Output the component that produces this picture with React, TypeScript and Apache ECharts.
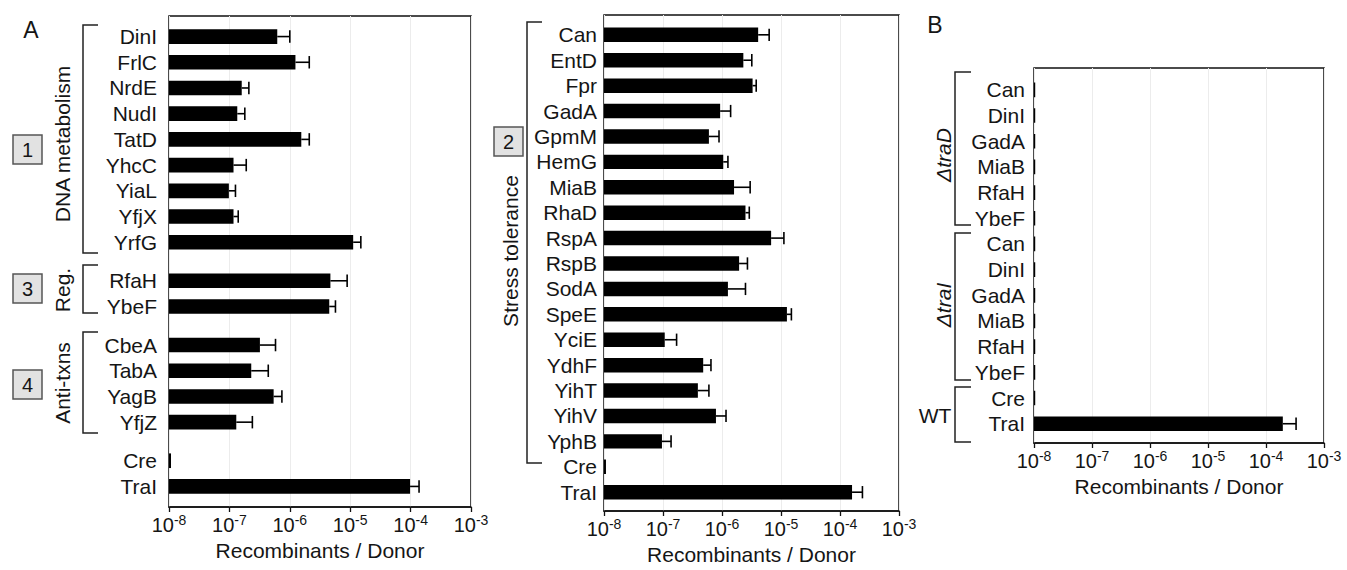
import React, { useEffect, useRef } from "react";
import * as echarts from "echarts";

// ---------- Data (Recombinants / Donor) ----------
// Panel A (left)
const dnaGenes = ["DinI", "FrlC", "NrdE", "NudI", "TatD", "YhcC", "YiaL", "YfjX", "YrfG"];
const dnaMeans = [6.2e-7, 1.24e-6, 1.6e-7, 1.35e-7, 1.55e-6, 1.17e-7, 9.8e-8, 1.17e-7, 1.12e-5];
const dnaUpper = [1.0e-6, 2.1e-6, 2.1e-7, 1.8e-7, 2.1e-6, 1.9e-7, 1.26e-7, 1.4e-7, 1.5e-5];

const regGenes = ["RfaH", "YbeF"];
const regMeans = [4.7e-6, 4.5e-6];
const regUpper = [8.9e-6, 5.7e-6];

const antiGenes = ["CbeA", "TabA", "YagB", "YfjZ"];
const antiMeans = [3.2e-7, 2.3e-7, 5.4e-7, 1.3e-7];
const antiUpper = [5.8e-7, 4.4e-7, 7.4e-7, 2.4e-7];

const ctrlGenes = ["Cre", "TraI"];
const ctrlMeansA1 = [1.08e-8, 9.8e-5];
const ctrlUpperA1 = [0, 1.38e-4];

// Panel A (right)
const stressGenes = ["Can", "EntD", "Fpr", "GadA", "GpmM", "HemG", "MiaB", "RhaD", "RspA", "RspB",
  "SodA", "SpeE", "YciE", "YdhF", "YihT", "YihV", "YphB"];
const stressMeans = [4.1e-6, 2.3e-6, 3.3e-6, 9.3e-7, 6.0e-7, 1.05e-6, 1.6e-6, 2.5e-6, 6.8e-6, 1.95e-6,
  1.26e-6, 1.26e-5, 1.07e-7, 4.8e-7, 3.9e-7, 7.9e-7, 9.6e-8];
const stressUpper = [6.3e-6, 3.2e-6, 3.8e-6, 1.4e-6, 8.9e-7, 1.26e-6, 3.0e-6, 2.9e-6, 1.12e-5, 2.7e-6,
  2.5e-6, 1.5e-5, 1.7e-7, 6.5e-7, 6.0e-7, 1.17e-6, 1.37e-7];
const ctrlMeansA2 = [1.08e-8, 1.6e-4];
const ctrlUpperA2 = [0, 2.4e-4];

// Panel B
const bGenes = ["Can", "DinI", "GadA", "MiaB", "RfaH", "YbeF"];
const traDMeans = [1.05e-8, 1.05e-8, 1.05e-8, 1.05e-8, 1.05e-8, 1.05e-8];
const traIMeans = [1.05e-8, 1.05e-8, 1.05e-8, 1.05e-8, 1.05e-8, 1.05e-8];
const noUpper = [0, 0, 0, 0, 0, 0];
const wtGenes = ["Cre", "TraI"];
const wtMeans = [1.05e-8, 1.95e-4];
const wtUpper = [0, 3.3e-4];

const xTicksMin = 1e-8;
const xTicksMax = 1e-3;

// ---------- helpers ----------
type Group = { names: string[]; means: number[]; upper: number[] };

function buildRows(groups: Group[], gap: number) {
  const names: string[] = [];
  const positions: number[] = [];
  const data: number[][] = [];
  let pos = 0;
  groups.forEach((g, gi) => {
    if (gi > 0) pos += gap;
    g.names.forEach((n, i) => {
      names.push(n);
      positions.push(pos);
      data.push([g.means[i], pos, g.upper[i]]);
      pos += 1;
    });
  });
  return { names, positions, data };
}

const FONT = "'Liberation Sans', Arial, Helvetica, sans-serif";
const TXT = "#151515";

const renderBar = (params: any, api: any) => {
  const v = api.value(0);
  const y = api.value(1);
  const up = api.value(2);
  const p0 = api.coord([xTicksMin, y]);
  const p1 = api.coord([v, y]);
  const half = Math.abs(api.coord([xTicksMin, y + 0.285])[1] - p0[1]);
  const children: any[] = [
    {
      type: "rect",
      shape: { x: p0[0], y: p0[1] - half, width: Math.max(p1[0] - p0[0], 1), height: half * 2 },
      style: { fill: "#000" },
    },
  ];
  if (up && up > v) {
    const p2 = api.coord([up, y]);
    const cap = half * 0.85;
    children.push({
      type: "line",
      shape: { x1: p1[0], y1: p1[1], x2: p2[0], y2: p1[1] },
      style: { stroke: "#000", lineWidth: 1.6 },
    });
    children.push({
      type: "line",
      shape: { x1: p2[0], y1: p1[1] - cap, x2: p2[0], y2: p1[1] + cap },
      style: { stroke: "#000", lineWidth: 1.6 },
    });
  }
  return { type: "group", children };
};

function makeAxes(idx: number, rows: { names: string[]; positions: number[] }, ymin: number, ymax: number, labelMargin: number) {
  const xAxis = {
    type: "log",
    gridIndex: idx,
    logBase: 10,
    min: xTicksMin,
    max: xTicksMax,
    position: "bottom",
    name: "Recombinants / Donor",
    nameLocation: "middle",
    nameGap: 33,
    nameTextStyle: { fontFamily: FONT, fontSize: 21, color: TXT },
    axisLine: { show: true, onZero: false, lineStyle: { color: "#111", width: 1.5 } },
    axisTick: { show: true, inside: false, length: 5, lineStyle: { color: "#111", width: 1.3 } },
    splitLine: { show: true, lineStyle: { color: "#ececec", width: 1 } },
    axisLabel: {
      margin: 6,
      formatter: (val: number) => `{b|10}{s|${Math.round(Math.log10(val))}}`,
      rich: {
        b: { fontFamily: FONT, fontSize: 20, color: TXT, lineHeight: 24 },
        s: { fontFamily: FONT, fontSize: 14, color: TXT, lineHeight: 14, verticalAlign: "top" },
      },
    },
  };
  const yAxis = {
    type: "value",
    gridIndex: idx,
    inverse: true,
    min: ymin,
    max: ymax,
    axisLine: { show: false, onZero: false },
    axisTick: { show: false },
    splitLine: { show: false },
    axisLabel: {
      customValues: rows.positions,
      margin: labelMargin,
      fontFamily: FONT,
      fontSize: 21,
      color: TXT,
      formatter: (val: number) => {
        const i = rows.positions.findIndex((p) => Math.abs(p - val) < 1e-6);
        return i >= 0 ? rows.names[i] : "";
      },
    },
  };
  return { xAxis, yAxis };
}

function bracket(x: number, y1: number, y2: number, tick: number) {
  return {
    type: "polyline",
    shape: { points: [[x + tick, y1], [x, y1], [x, y2], [x + tick, y2]] },
    style: { stroke: "#222", lineWidth: 1.5, fill: null },
  };
}

function numBox(x: number, y: number, label: string) {
  return {
    type: "group",
    children: [
      { type: "rect", shape: { x, y, width: 29, height: 29 }, style: { fill: "#e2e2e2", stroke: "#555", lineWidth: 1.5 } },
      { type: "text", x: x + 14.5, y: y + 15, style: { text: label, font: `20px ${FONT}`, fill: TXT, align: "center", verticalAlign: "middle" } },
    ],
  };
}

function vLabel(x: number, y: number, text: string, italic = false) {
  return {
    type: "text",
    x,
    y,
    rotation: Math.PI / 2,
    style: { text, font: `${italic ? "italic " : ""}21px ${FONT}`, fill: TXT, align: "center", verticalAlign: "middle" },
  };
}

function hLabel(x: number, y: number, text: string, size = 22) {
  return {
    type: "text",
    x,
    y,
    style: { text, font: `${size}px ${FONT}`, fill: TXT, align: "center", verticalAlign: "middle" },
  };
}

export default function App() {
  const ref = useRef<HTMLDivElement>(null);
  useEffect(() => {
    if (!ref.current) return;
    const chart = echarts.init(ref.current, undefined, { renderer: "svg" });

    const rowsA1 = buildRows(
      [
        { names: dnaGenes, means: dnaMeans, upper: dnaUpper },
        { names: regGenes, means: regMeans, upper: regUpper },
        { names: antiGenes, means: antiMeans, upper: antiUpper },
        { names: ctrlGenes, means: ctrlMeansA1, upper: ctrlUpperA1 },
      ],
      0.5
    );
    const rowsA2 = buildRows(
      [
        { names: stressGenes, means: stressMeans, upper: stressUpper },
        { names: ctrlGenes, means: ctrlMeansA2, upper: ctrlUpperA2 },
      ],
      0
    );
    const rowsB = buildRows(
      [
        { names: bGenes, means: traDMeans, upper: noUpper },
        { names: bGenes, means: traIMeans, upper: noUpper },
        { names: wtGenes, means: wtMeans, upper: wtUpper },
      ],
      0
    );

    const a1 = makeAxes(0, rowsA1, -0.8, 18.3, 12);
    const a2 = makeAxes(1, rowsA2, -0.78, 18.74, 7);
    const b = makeAxes(2, rowsB, -0.85, 13.75, 9);

    const gridStyle = { show: true, borderColor: "#111", borderWidth: 1.5, backgroundColor: "transparent" };

    chart.setOption({
      animation: false,
      backgroundColor: "#fff",
      grid: [
        { ...gridStyle, left: 169, top: 16, width: 302, height: 491 },
        { ...gridStyle, left: 604, top: 15, width: 295, height: 504 },
        { ...gridStyle, left: 1034, top: 68, width: 290, height: 375 },
      ],
      xAxis: [a1.xAxis, a2.xAxis, b.xAxis],
      yAxis: [a1.yAxis, a2.yAxis, b.yAxis],
      series: [
        { type: "custom", xAxisIndex: 0, yAxisIndex: 0, renderItem: renderBar, encode: { x: 0, y: 1 }, data: rowsA1.data },
        { type: "custom", xAxisIndex: 1, yAxisIndex: 1, renderItem: renderBar, encode: { x: 0, y: 1 }, data: rowsA2.data },
        { type: "custom", xAxisIndex: 2, yAxisIndex: 2, renderItem: renderBar, encode: { x: 0, y: 1 }, data: rowsB.data },
      ],
      graphic: [
        hLabel(31, 30, "A", 23),
        hLabel(935, 25, "B", 23),
        // Panel A left brackets
        bracket(83, 25, 253, 15),
        vLabel(62, 144, "DNA metabolism"),
        bracket(83, 265, 313, 15),
        vLabel(62, 290, "Reg."),
        bracket(83, 332, 433, 15),
        vLabel(62, 383, "Anti-txns"),
        numBox(13, 135, "1"),
        numBox(13, 274, "3"),
        numBox(13, 370, "4"),
        // Panel A right
        bracket(527, 22, 463, 15),
        vLabel(510, 251, "Stress tolerance"),
        numBox(494, 127, "2"),
        // Panel B
        bracket(955, 72, 225, 16),
        vLabel(943, 155, "\u0394traD", true),
        bracket(955, 233, 380, 16),
        vLabel(943, 305, "\u0394traI", true),
        bracket(955, 387, 442, 16),
        hLabel(935, 415, "WT", 21),
      ],
    });
    return () => chart.dispose();
  }, []);
  return <div ref={ref} style={{ position: "fixed", left: 0, top: 0, width: 1347, height: 570 }} />;
}
